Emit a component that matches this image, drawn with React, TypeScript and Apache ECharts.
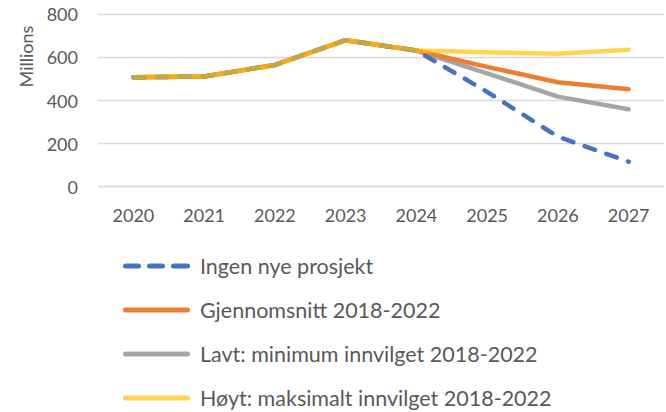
import React, { useEffect, useRef } from "react";
import * as echarts from "echarts";

const years = ["2020", "2021", "2022", "2023", "2024", "2025", "2026", "2027"];
const ingenNye = [508, 511, 565, 680, 632, 440, 232, 116];
const gjennomsnitt = [508, 511, 565, 680, 632, 556, 485, 452];
const lavt = [508, 511, 565, 680, 632, 526, 418, 359];
const hoyt = [508, 511, 565, 680, 632, 624, 617, 636];
const seriesNames = [
  "Ingen nye prosjekt",
  "Gjennomsnitt 2018-2022",
  "Lavt: minimum innvilget 2018-2022",
  "Høyt: maksimalt innvilget 2018-2022",
];
const yTicks = [0, 200, 400, 600, 800];

const FONT = "Lato, 'Open Sans', sans-serif";
const TXT = "#595959";
const SOLID_ICON = "path://M2.5,0h62a2.5,2.5 0 0 1 0,5h-62a2.5,2.5 0 0 1 0,-5z";
const DASH_ICON =
  "path://M2.5,0h13a2.5,2.5 0 0 1 0,5h-13a2.5,2.5 0 0 1 0,-5z M26.5,0h13a2.5,2.5 0 0 1 0,5h-13a2.5,2.5 0 0 1 0,-5z M50.5,0h14a2.5,2.5 0 0 1 0,5h-14a2.5,2.5 0 0 1 0,-5z";

export default function App() {
  const ref = useRef<HTMLDivElement>(null);
  useEffect(() => {
    document.body.style.margin = "0";
    const chart = echarts.init(ref.current!, null, { renderer: "svg" });
    const mk = (name: string, data: number[], color: string, iconColor: string, extra: any = {}) => ({
      name,
      type: "line",
      data,
      symbol: "none",
      smooth: false,
      lineStyle: { color, width: 4.5, cap: "round", join: "round", ...extra },
      itemStyle: { color: iconColor },
    });
    chart.setOption({
      animation: false,
      grid: { left: 98, right: 2, top: 14.3, bottom: 412 - 186.7 },
      xAxis: {
        type: "category",
        data: years,
        boundaryGap: true,
        axisLine: { lineStyle: { color: "#d9d9d9", width: 1.3 } },
        axisTick: { show: false },
        axisLabel: { color: TXT, fontFamily: FONT, fontSize: 18, margin: 19 },
      },
      yAxis: {
        type: "value",
        min: yTicks[0],
        max: yTicks[yTicks.length - 1],
        interval: 200,
        axisLine: { show: false },
        axisTick: { show: false },
        splitLine: { lineStyle: { color: "#d9d9d9", width: 1.3 } },
        axisLabel: { color: TXT, fontFamily: FONT, fontSize: 18, margin: 20 },
      },
      legend: {
        orient: "vertical",
        left: 123,
        top: 255,
        padding: 0,
        itemWidth: 67,
        itemHeight: 5,
        itemGap: 22,
        data: [
          { name: seriesNames[0], icon: DASH_ICON },
          { name: seriesNames[1], icon: SOLID_ICON },
          { name: seriesNames[2], icon: SOLID_ICON },
          { name: seriesNames[3], icon: SOLID_ICON },
        ],
        textStyle: { color: TXT, fontFamily: FONT, fontSize: 21.5, lineHeight: 22, padding: [0, 0, 0, 5] },
      },
      graphic: [
        {
          type: "text",
          x: 26,
          y: 56.5,
          rotation: Math.PI / 2,
          style: {
            text: "Millions",
            fill: TXT,
            font: `18px ${FONT}`,
            align: "center",
            verticalAlign: "middle",
          },
        },
      ],
      series: [
        mk(seriesNames[2], lavt, "#A5A5A5", "#A5A5A5"),
        mk(seriesNames[1], gjennomsnitt, "#ED7D31", "#ED7D31"),
        mk(seriesNames[0], ingenNye, "#4472C4", "#4472C4", { type: [11, 12] }),
        mk(seriesNames[3], hoyt, "#FFC000", "#FFD34D", { opacity: 0.7 }),
      ],
    });
    return () => chart.dispose();
  }, []);
  return <div ref={ref} style={{ width: 666, height: 412 }} />;
}
